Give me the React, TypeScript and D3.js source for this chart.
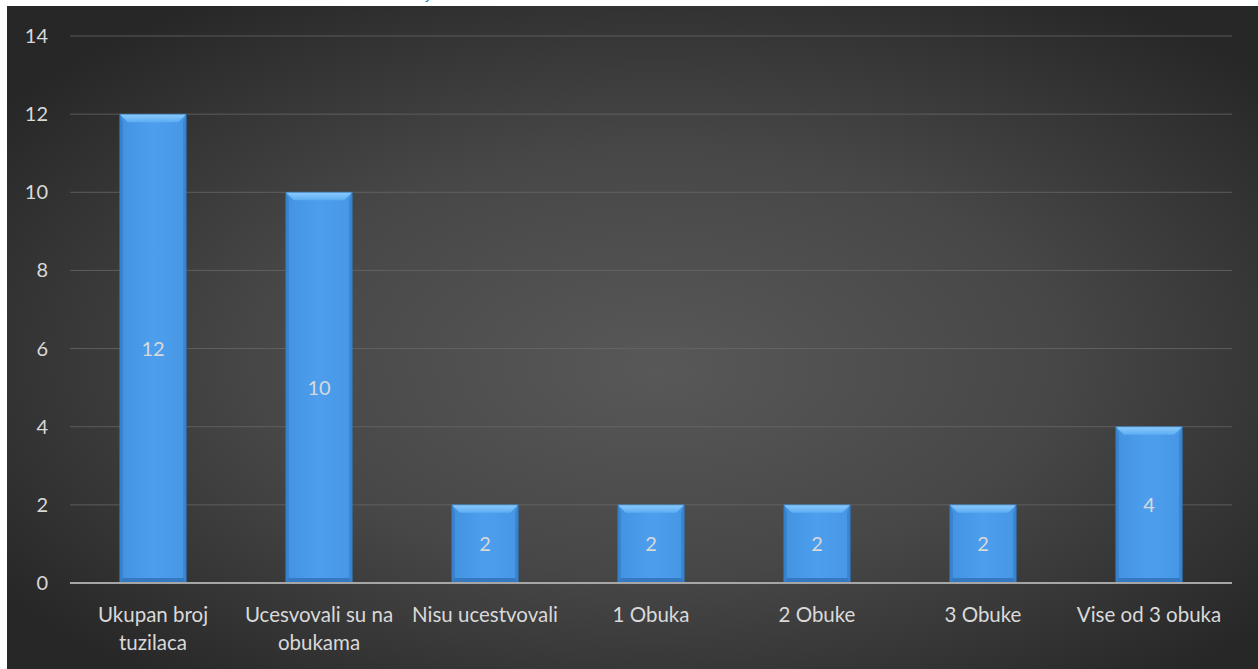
import React from "react";
import * as d3 from "d3";

const categories: string[][] = [
  ["Ukupan broj", "tuzilaca"],
  ["Ucesvovali su na", "obukama"],
  ["Nisu ucestvovali"],
  ["1 Obuka"],
  ["2 Obuke"],
  ["3 Obuke"],
  ["Vise od 3 obuka"],
];
const values: number[] = [12, 10, 2, 2, 2, 2, 4];
const yTicks: number[] = [0, 2, 4, 6, 8, 10, 12, 14];

const W = 1258;
const H = 669;
const FONT = "Lato, 'Open Sans', 'Liberation Sans', sans-serif";

export default function App() {
  const x = d3
    .scaleBand<number>()
    .domain(values.map((_, i) => i))
    .range([70, 1232])
    .paddingInner(0.6)
    .paddingOuter(0.3);
  const y = d3.scaleLinear().domain([0, 14]).range([583, 36]);
  const bw = x.bandwidth();
  const bev = 8;

  return (
    <svg
      width={W}
      height={H}
      style={{ position: "absolute", left: 0, top: 0, display: "block" }}
      fontFamily={FONT}
    >
      <defs>
        <radialGradient id="bg" cx="0.52" cy="0.52" r="0.64" fx="0.52" fy="0.55">
          <stop offset="0" stopColor="#585858" />
          <stop offset="0.5" stopColor="#474747" />
          <stop offset="1" stopColor="#272727" />
        </radialGradient>
        <linearGradient id="barFace" x1="0" x2="1" y1="0" y2="0">
          <stop offset="0" stopColor="#4292e0" />
          <stop offset="0.5" stopColor="#4d9fee" />
          <stop offset="1" stopColor="#4696e4" />
        </linearGradient>
        <linearGradient id="bevTop" x1="0" x2="0" y1="0" y2="1">
          <stop offset="0" stopColor="#8ccbfc" />
          <stop offset="1" stopColor="#5cadf3" />
        </linearGradient>
      </defs>
      <rect x={0} y={0} width={W} height={H} fill="#ffffff" />
      <rect x={7} y={6} width={W - 7} height={H - 6} fill="url(#bg)" />
      <text x={426} y={-1} fill="#2e74b5" fontSize={16} fontFamily={FONT}>
        j
      </text>

      {yTicks.map((t) =>
        t === 0 ? null : (
          <line
            key={"g" + t}
            x1={70}
            x2={1232}
            y1={y(t)}
            y2={y(t)}
            stroke="#6a6a6a"
            strokeOpacity={0.75}
            strokeWidth={1}
          />
        )
      )}
      {yTicks.map((t) => (
        <text
          key={"t" + t}
          x={48}
          y={y(t)}
          dy="0.35em"
          textAnchor="end"
          fill="#d9d9d9"
          fontSize={20}
        >
          {t}
        </text>
      ))}

      {values.map((v, i) => {
        const x0 = x(i)!;
        const y0 = y(v);
        const y1 = y(0);
        const h = y1 - y0;
        return (
          <g key={"b" + i}>
            <rect x={x0} y={y0} width={bw} height={h} fill="url(#barFace)" />
            <polygon
              points={`${x0},${y0} ${x0 + bw},${y0} ${x0 + bw - bev},${y0 + bev} ${x0 + bev},${y0 + bev}`}
              fill="url(#bevTop)"
            />
            <polygon
              points={`${x0},${y0} ${x0 + bev * 0.4},${y0 + bev} ${x0 + bev * 0.4},${y1 - 3} ${x0},${y1}`}
              fill="#3884d0"
            />
            <polygon
              points={`${x0 + bw},${y0} ${x0 + bw - bev * 0.4},${y0 + bev} ${x0 + bw - bev * 0.4},${y1 - 3} ${x0 + bw},${y1}`}
              fill="#3a86d2"
            />
            <polygon
              points={`${x0},${y1} ${x0 + bw},${y1} ${x0 + bw - 3},${y1 - 5} ${x0 + 3},${y1 - 5}`}
              fill="#3579c0"
            />
            <rect
              x={x0}
              y={y0}
              width={bw}
              height={h}
              fill="none"
              stroke="#2f6fb0"
              strokeOpacity={0.6}
              strokeWidth={1}
            />
            <text
              x={x0 + bw / 2}
              y={y(v / 2)}
              dy="0.35em"
              textAnchor="middle"
              fill="#d9d9d9"
              fontSize={20}
            >
              {v}
            </text>
          </g>
        );
      })}

      <line x1={70} x2={1232} y1={y(0)} y2={y(0)} stroke="#a6a6a6" strokeWidth={2} />

      {categories.map((lines, i) => {
        const cx = x(i)! + bw / 2;
        return (
          <text
            key={"c" + i}
            x={cx}
            y={615}
            textAnchor="middle"
            fill="#d9d9d9"
            fontSize={20.5}
          >
            {lines.map((l, j) => (
              <tspan key={j} x={cx} dy={j === 0 ? "0.35em" : 28}>
                {l}
              </tspan>
            ))}
          </text>
        );
      })}
    </svg>
  );
}
